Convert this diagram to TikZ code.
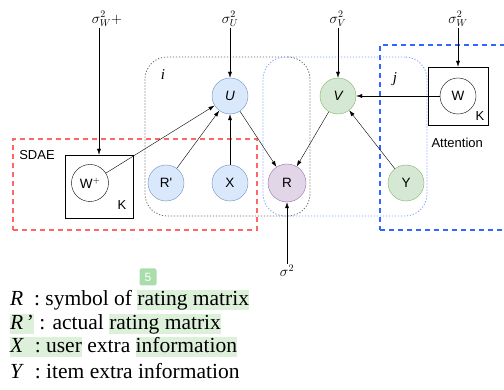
\documentclass[tikz,border=0pt]{standalone}
\usepackage{fontspec}
\setmainfont{Liberation Serif}
\newfontfamily\diagfont{Liberation Sans}
\usetikzlibrary{arrows.meta}
\definecolor{ufill}{HTML}{DAE8FC}
\definecolor{uline}{HTML}{6C8EBF}
\definecolor{vfill}{HTML}{D5E8D4}
\definecolor{vline}{HTML}{82B366}
\definecolor{rfill}{HTML}{E1D5E7}
\definecolor{rline}{HTML}{9673A6}
\definecolor{sdaered}{HTML}{FF6666}
\definecolor{attblue}{HTML}{3366FF}
\definecolor{hlgreen}{HTML}{DDF1DA}
\definecolor{tagfill}{HTML}{A9DDA9}
\newcommand{\hl}[1]{{\setlength{\fboxsep}{0pt}\colorbox{hlgreen}{\rule[-4.5pt]{0pt}{20pt}#1}}}
\begin{document}
\begin{tikzpicture}[
  x=1pt, y=-1pt,
  >={Latex[length=6pt,width=4pt]},
  var/.style={circle, draw, minimum size=36pt, inner sep=0pt, font=\diagfont\fontsize{13.5}{15}\selectfont},
  uvar/.style={var, fill=ufill, draw=uline},
  vvar/.style={var, fill=vfill, draw=vline},
  rvar/.style={var, fill=rfill, draw=rline},
  box/.style={draw, minimum width=#1, inner sep=0pt},
  prior/.style={font=\fontsize{14}{16}\selectfont, inner sep=1pt},
  plate/.style={draw, rounded corners=22pt, inner sep=0pt, line width=0.8pt, dash pattern=on 1.2pt off 1.8pt},
  frame/.style={draw, line width=1.4pt, dash pattern=on 5pt off 4pt, inner sep=0pt},
  tag/.style={font=\diagfont\fontsize{13}{15}\selectfont},
  legend/.style={anchor=west, inner sep=0pt, font=\fontsize{21.5}{24}\selectfont}
]
\useasboundingbox (0,0) rectangle (504,390);

% frames and plates
\node[frame, draw=attblue, minimum width=150pt, minimum height=185pt] (attn) at (455,137.5) {};
\node[frame, draw=sdaered, minimum width=244pt, minimum height=91pt] (sdae) at (135,184.5) {};
\node[plate, draw=black!60, minimum width=165pt, minimum height=159pt] (platei) at (227.5,136.5) {};
\node[plate, draw=attblue!65, minimum width=164pt, minimum height=159pt] (platej) at (345,136.5) {};
\node[font=\itshape\fontsize{15}{17}\selectfont] (li) at (163,75) {i};
\node[font=\itshape\fontsize{15}{17}\selectfont] (lj) at (395,79) {j};
\node[tag] (lsdae) at (37,155) {SDAE};
\node[tag, anchor=west] (latt) at (428,143) {Attention};

% weight boxes
\node[box=68pt, minimum height=63pt] (wpbox) at (99,186.5) {};
\node[var, minimum size=37pt] (wp) at (90,183) {W$^{+}$};
\node[tag] (kp) at (122,205) {K};
\node[box=60pt, minimum height=58pt] (wbox) at (458,96) {};
\node[var] (w) at (458,96) {W};
\node[tag] (k) at (480,116) {K};

% variables
\node[uvar] (u) at (230,96) {\itshape U};
\node[vvar] (v) at (338,96) {\itshape V};
\node[uvar] (rp) at (166,183) {R'};
\node[uvar] (x) at (230,183) {X};
\node[rvar, minimum size=38pt] (r) at (287,183) {R};
\node[vvar] (y) at (406,183) {Y};

% priors
\node[prior] (swp) at (107,19) {$\sigma_W^2+$};
\node[prior] (su) at (230,19) {$\sigma_U^2$};
\node[prior] (sv) at (338,19) {$\sigma_V^2$};
\node[prior] (sw) at (458,19) {$\sigma_W^2$};
\node[prior] (sr) at (287,271) {$\sigma^2$};

\draw[->] (wpbox.north |- swp.south) -- (wpbox.north);
\draw[->] (su) -- (u);
\draw[->] (sv) -- (v);
\draw[->] (sw) -- (wbox.north);
\draw[->] (sr) -- (r);
\draw[->] (wp) -- (u);
\draw[->] (rp) -- (u);
\draw[->] (x) -- (u);
\draw[->] (u) -- (r);
\draw[->] (v) -- (r);
\draw[->] (y) -- (v);
\draw[->] (w) -- (v);

% legend
\node[fill=tagfill, text=white, rounded corners=2pt, minimum size=17pt, inner sep=0pt, font=\diagfont\fontsize{12}{14}\selectfont] (num) at (148,277) {5};
\node[legend] (l1) at (10,300) {\textit{R}\ \ : symbol of \hl{rating matrix}};
\node[legend] (l2) at (10,324) {\hl{\textit{R}\,’} : actual \hl{rating matrix}};
\node[legend] (l3) at (10,347) {\hl{\textit{X}\ \ : user} extra \hl{information}};
\node[legend] (l4) at (10,371) {\textit{Y}\ \ : item extra information};
\end{tikzpicture}
\end{document}
